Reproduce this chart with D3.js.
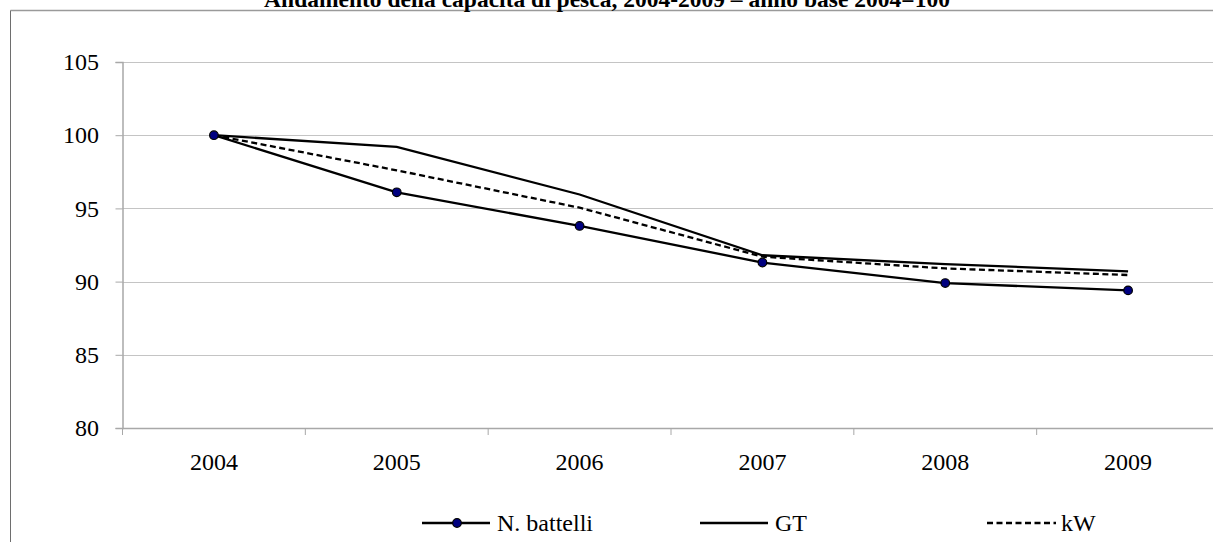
<!DOCTYPE html>
<html><head><meta charset="utf-8">
<script src="https://cdn.jsdelivr.net/npm/d3@7"></script>
<style>html,body{margin:0;padding:0;background:#fff;overflow:hidden}</style>
</head><body>
<svg id="c" width="1213" height="542"></svg>
<script>
const categories = ["2004","2005","2006","2007","2008","2009"];
const battelli = [100, 96.1, 93.8, 91.3, 89.9, 89.4];
const gt = [100, 99.2, 95.95, 91.8, 91.2, 90.7];
const kw = [100, 97.6, 95.05, 91.7, 90.9, 90.45];
const yTicks = [80, 85, 90, 95, 100, 105];
const title = "Andamento della capacità di pesca, 2004-2009 – anno base 2004=100";

(function(){
const svg = d3.select("#c");
const font = "'Liberation Serif','Times New Roman',Times,serif";
const fs = 24;
const pl = 122.5, pr = 1219.5, pt = 62, pb = 428;

// frame
svg.append("line").attr("x1",10.5).attr("x2",1213).attr("y1",10.5).attr("y2",10.5).attr("stroke","#9a9a9a").attr("stroke-width",1.5);
svg.append("line").attr("x1",10.5).attr("x2",10.5).attr("y1",10.5).attr("y2",542).attr("stroke","#6e6e6e").attr("stroke-width",1);

svg.append("text").attr("x",607).attr("y",7).attr("text-anchor","middle")
  .style("font-family",font).attr("font-weight","bold").attr("font-size",23.5).text(title);

const x = d3.scaleBand().domain(categories).range([pl, pr]);
const y = d3.scaleLinear().domain([80,105]).range([pb, pt]);
const xc = d => x(d) + x.bandwidth()/2;

// grid
svg.append("g").selectAll("line").data(yTicks.filter(t=>t>80)).join("line")
  .attr("x1",pl).attr("x2",1213).attr("y1",d=>Math.round(y(d))+0.5).attr("y2",d=>Math.round(y(d))+0.5)
  .attr("stroke","#c4c4c4").attr("stroke-width",1);

// y axis
const ya = svg.append("g").attr("transform",`translate(${pl},0)`)
  .call(d3.axisLeft(y).tickValues(yTicks).tickSize(7).tickPadding(16.5).tickFormat(d3.format("d")));
ya.select(".domain").attr("stroke","#a8a8a8").attr("stroke-width",1.5);
ya.selectAll(".tick line").attr("stroke","#a8a8a8");
ya.selectAll("text").style("font-family",font).attr("font-size",fs).attr("fill","#000");

// x axis
const xa = svg.append("g").attr("transform",`translate(0,${pb})`)
  .call(d3.axisBottom(x).tickSize(0).tickPadding(25));
xa.select(".domain").attr("stroke","#a8a8a8").attr("stroke-width",1.5);
xa.selectAll("text").style("font-family",font).attr("font-size",fs).attr("fill","#000");
svg.append("g").selectAll("line").data(d3.range(categories.length+1)).join("line")
  .attr("x1",i=>pl+i*x.step()).attr("x2",i=>pl+i*x.step())
  .attr("y1",pb).attr("y2",pb+7).attr("stroke","#a8a8a8").attr("stroke-width",1);

const line = d3.line().x((d,i)=>xc(categories[i])).y(d=>y(d));
svg.append("path").datum(gt).attr("d",line).attr("fill","none").attr("stroke","#000").attr("stroke-width",2.3);
svg.append("path").datum(kw).attr("d",line).attr("fill","none").attr("stroke","#000").attr("stroke-width",2.3).attr("stroke-dasharray","6,3.5");
svg.append("path").datum(battelli).attr("d",line).attr("fill","none").attr("stroke","#000").attr("stroke-width",2.3);
svg.append("g").selectAll("circle").data(battelli).join("circle")
  .attr("cx",(d,i)=>xc(categories[i])).attr("cy",d=>y(d)).attr("r",4.3)
  .attr("fill","#000080").attr("stroke","#000").attr("stroke-width",1.2);

// legend
const ly = 523;
const lg = svg.append("g").style("font-family",font).attr("font-size",fs);
lg.append("line").attr("x1",422).attr("x2",490).attr("y1",ly).attr("y2",ly).attr("stroke","#000").attr("stroke-width",2.3);
lg.append("circle").attr("cx",457).attr("cy",ly).attr("r",4.3).attr("fill","#000080").attr("stroke","#000").attr("stroke-width",1.2);
lg.append("text").attr("x",497).attr("y",ly+8).text("N. battelli");
lg.append("line").attr("x1",700).attr("x2",768).attr("y1",ly).attr("y2",ly).attr("stroke","#000").attr("stroke-width",2.3);
lg.append("text").attr("x",775).attr("y",ly+8).text("GT");
lg.append("line").attr("x1",987).attr("x2",1056).attr("y1",ly).attr("y2",ly).attr("stroke","#000").attr("stroke-width",2.3).attr("stroke-dasharray","6,3.5");
lg.append("text").attr("x",1061).attr("y",ly+8).text("kW");
})();
</script>
</body></html>
